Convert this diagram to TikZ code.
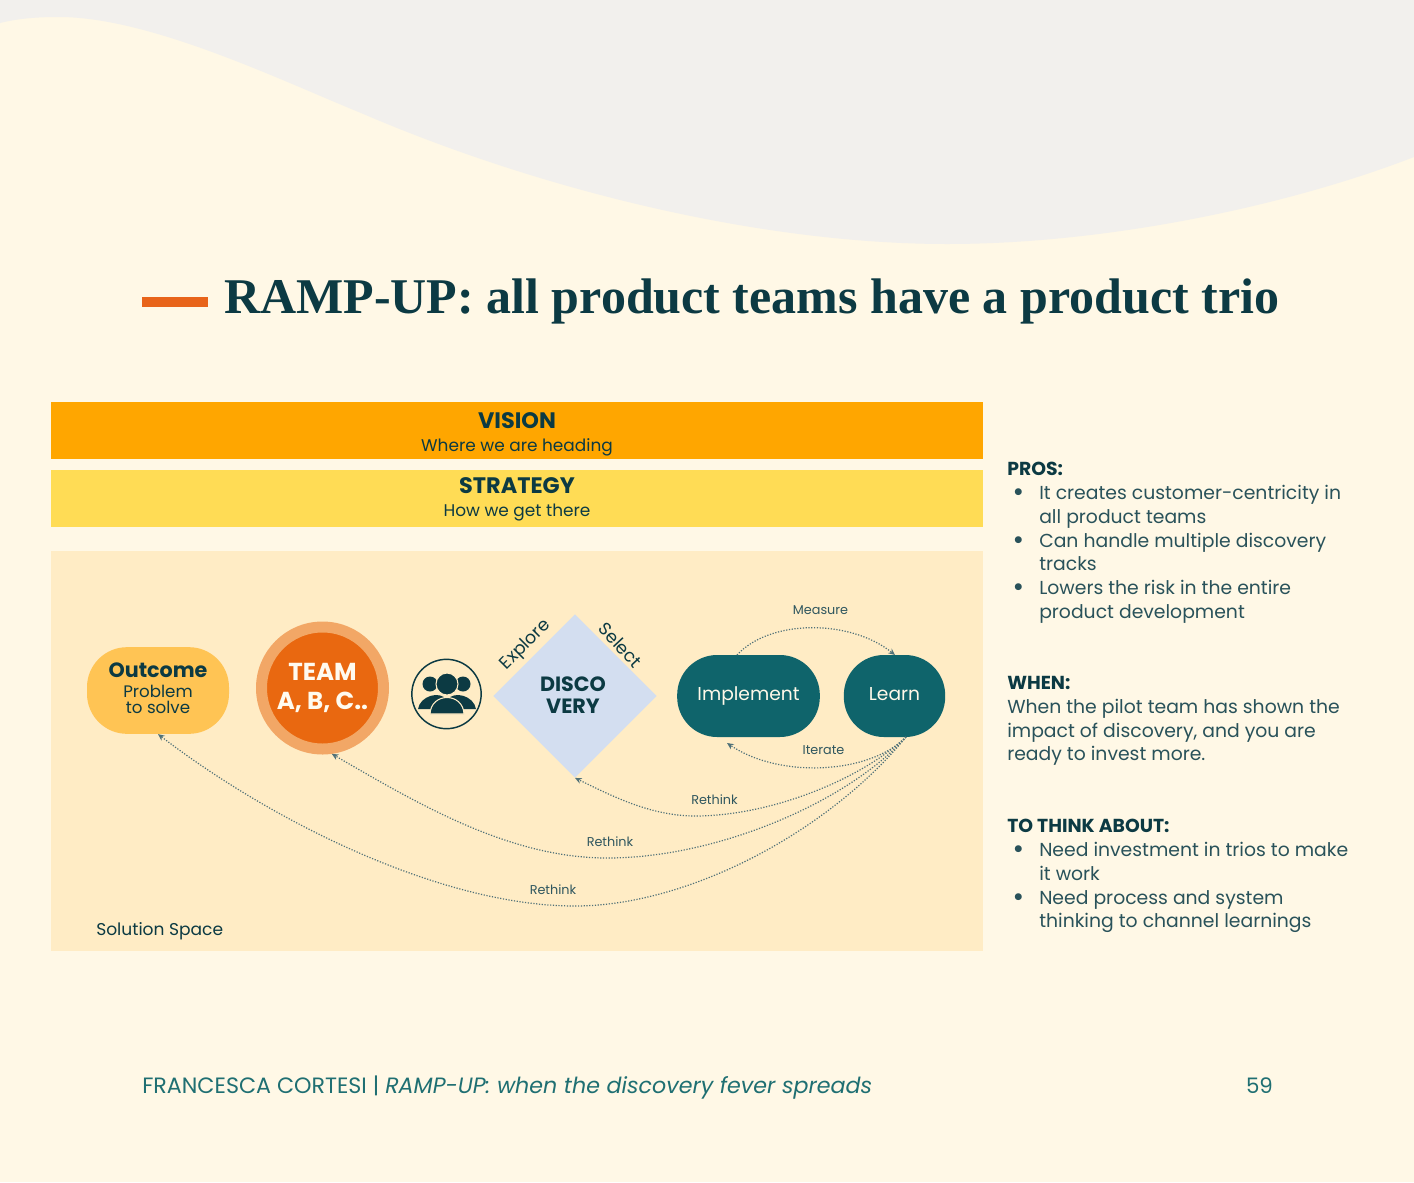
\documentclass[tikz,border=0pt]{standalone}
\usepackage{fontspec}
\setmainfont{Poppins}
\newfontfamily\titlefont{Liberation Serif}
\usepackage{xcolor}
\usetikzlibrary{positioning,arrows.meta,shapes.geometric}
\definecolor{cream}{HTML}{FFF8E6}
\definecolor{wavegrey}{HTML}{F2F0ED}
\definecolor{darkteal}{HTML}{0C3A43}
\definecolor{midteal}{HTML}{0F646B}
\definecolor{footteal}{HTML}{1F6F72}
\definecolor{rust}{HTML}{E8641A}
\definecolor{visionfill}{HTML}{FFA600}
\definecolor{strategyfill}{HTML}{FFDC55}
\definecolor{spacefill}{HTML}{FFECC5}
\definecolor{outcomefill}{HTML}{FFC454}
\definecolor{teamfill}{HTML}{E96810}
\definecolor{teamring}{HTML}{F2A766}
\definecolor{discofill}{HTML}{D3DEF0}
\newcommand{\bitem}{\makebox[24pt][l]{\hspace*{4pt}\raisebox{-1.5pt}[0pt][0pt]{\fontsize{21}{21}\selectfont\textbullet}}}
\newcommand{\bcont}{\hspace*{24pt}}
\newcommand{\sidehead}[1]{\textcolor{darkteal}{\textbf{#1}}}
\begin{document}
\begin{tikzpicture}[
  x=0.75pt, y=-0.75pt, >=Stealth, text=darkteal,
  band/.style={minimum width=699pt, minimum height=43pt, inner sep=0pt},
  bandtext/.style={inner sep=0pt, align=center, font=\fontsize{12.7}{17.25}\selectfont},
  pill/.style={rounded corners=30pt, inner sep=0pt, minimum height=61.5pt, align=center},
  tealpill/.style={pill, fill=midteal, text=cream!90!white, text height=10pt, text depth=4pt,
                   font=\fontsize{14}{16}\selectfont},
  sidetext/.style={anchor=north west, align=left, inner sep=0pt, text=darkteal!88,
                   font=\fontsize{14.1}{17.85}\selectfont},
  tiny/.style={inner sep=0pt, font=\fontsize{9.6}{11}\selectfont, text=darkteal!85},
  dots/.style={line width=0.9pt, dash pattern=on 0.9pt off 1.2pt, color=darkteal!72,
               arrows={-Stealth[length=5pt,width=4.5pt]}},
]
\fill[cream] (0,0) rectangle (1414,1182);
\fill[wavegrey] (0,0) -- (0,23) .. controls (20,18) and (40,17) .. (59,17)
  .. controls (150,17) and (280,80) .. (361,113)
  .. controls (540,190) and (760,244) .. (947,244)
  .. controls (1110,244) and (1290,205) .. (1414,157) -- (1414,0) -- cycle;

% title
\node[fill=rust, minimum width=49.5pt, minimum height=7.5pt, inner sep=0pt] (dash) at (175,302) {};
\node[anchor=base west, inner sep=0pt, font=\titlefont\bfseries\fontsize{37.5}{42}\selectfont] (title) at (224,313.5)
  {RAMP-UP: all product teams have a product trio};

% bands
\node[band, fill=visionfill] (vision) at (517,430.5) {};
\node[band, fill=strategyfill] (strategy) at (517,498.5) {};
\node[bandtext] (visiontext) at (517,434) {\textbf{\fontsize{16.8}{18}\selectfont VISION}\\Where we are heading};
\node[bandtext] (strategytext) at (517,499) {\textbf{\fontsize{16.8}{18}\selectfont STRATEGY}\\How we get there};
\node[fill=spacefill, minimum width=699pt, minimum height=300pt, inner sep=0pt] (space) at (517,751) {};
\node[anchor=west, inner sep=0pt, font=\fontsize{12.8}{15}\selectfont] (solution) at (96,931) {Solution Space};

% row of shapes
\node[pill, fill=outcomefill, minimum width=106.5pt, minimum height=65pt, font=\fontsize{12.5}{12.5}\selectfont] (outcome) at (158,690.5)
  {\raisebox{2pt}{\textbf{\fontsize{15.5}{17}\selectfont Outcome}}\\Problem\\to solve\rule[-3pt]{0pt}{1pt}};
\node[circle, fill=teamfill, draw=teamring, line width=8.25pt, minimum size=91.5pt, inner sep=0pt, align=center,
      text=cream!60!white, font=\bfseries\fontsize{18.4}{22}\selectfont] (team) at (322.5,688) {TEAM\\A, B, C..};
\node[circle, draw=darkteal, line width=1.1pt, minimum size=52pt, inner sep=0pt] (trio) at (446.5,694) {};
\fill[darkteal] (418,709) .. controls (420,696) and (440,690) .. (447,700) .. controls (454,690) and (474,696) .. (476,709) -- cycle;
\fill[darkteal] (430,684) circle (7.5) (463,684) circle (7.5);
\fill[darkteal, draw=spacefill, line width=0.8pt] (430,714) .. controls (431,692) and (463,692) .. (464,714) -- cycle;
\fill[darkteal, draw=spacefill, line width=0.8pt] (447,684) circle (11);

\node[diamond, fill=discofill, minimum width=122.5pt, minimum height=122.5pt, inner sep=0pt] (disco) at (575,696) {};
\node[inner sep=0pt, align=center, font=\bfseries\fontsize{15.5}{16.5}\selectfont] (discotext) at (573,695) {DISCO\\VERY};
\node[rotate=45, inner sep=0pt, font=\fontsize{13.2}{15}\selectfont] (explore) at (526,645) {Explore};
\node[rotate=-47, inner sep=0pt, font=\fontsize{13.2}{15}\selectfont] (selectlab) at (620.5,645) {Select};

\node[tealpill, minimum width=107pt] (implement) at (748.5,696) {Implement};
\node[tealpill, minimum width=76pt] (learn) at (894.5,696) {Learn};

% connectors
\coordinate (learnout) at (906,737);
\coordinate (learnin) at (895,655);
\coordinate (implout) at (737,655);
\coordinate (implin) at (727,743);
\draw[dots] (implout) .. controls (770,619) and (850,619) .. (learnin);
\draw[dots] (learnout) .. controls (870,774) and (780,779) .. (implin);
\draw[dots] (learnout) .. controls (860,780) and (770,816) .. (695,816)
  .. controls (650,816) and (610,795) .. (disco.south);
\draw[dots] (learnout) .. controls (850,800) and (720,858) .. (607,858)
  .. controls (510,858) and (420,805) .. (team.-82);
\draw[dots] (learnout) .. controls (830,830) and (690,906) .. (575,906)
  .. controls (440,906) and (270,820) .. (outcome.south);
\node[tiny] (measure) at (820.5,610) {Measure};
\node[tiny] (iterate) at (823.5,750) {Iterate};
\node[tiny] (rethinka) at (714.5,800) {Rethink};
\node[tiny] (rethinkb) at (610,842) {Rethink};
\node[tiny] (rethinkc) at (553,890) {Rethink};

% side text
\node[sidetext] (pros) at (1007,462) {\sidehead{PROS:}\\
  \bitem It creates customer-centricity in\\ \bcont all product teams\\
  \bitem Can handle multiple discovery\\ \bcont tracks\\
  \bitem Lowers the risk in the entire\\ \bcont product development};
\node[sidetext] (when) at (1007,676) {\sidehead{WHEN:}\\
  When the pilot team has shown the\\impact of discovery, and you are\\ready to invest more.};
\node[sidetext] (think) at (1007,819) {\sidehead{TO THINK ABOUT:}\\
  \bitem Need investment in trios to make\\ \bcont it work\\
  \bitem Need process and system\\ \bcont thinking to channel learnings};

% footer
\node[anchor=west, inner sep=0pt, text=footteal, font=\fontsize{16.64}{18}\selectfont] (foot) at (142,1088)
  {FRANCESCA CORTESI | \textit{RAMP-UP: when the discovery fever spreads}};
\node[inner sep=0pt, text=footteal, font=\fontsize{16}{18}\selectfont] (pagenum) at (1259.5,1086) {59};
\end{tikzpicture}
\end{document}
